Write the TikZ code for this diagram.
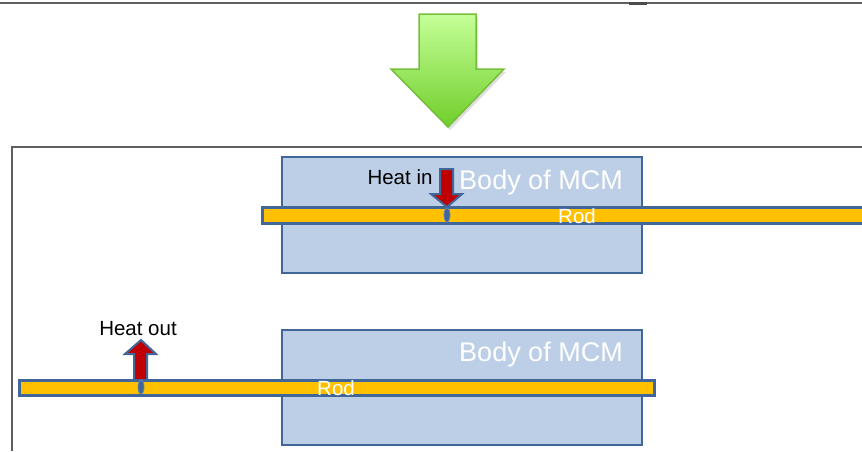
\documentclass[tikz,border=0pt]{standalone}
\usepackage{fontspec}
\setmainfont{Liberation Sans}
\usepackage{xcolor}
\usetikzlibrary{shadows}

\definecolor{bodyfill}{RGB}{189,207,230}
\definecolor{bodyline}{RGB}{65,103,154}
\definecolor{rodfill}{RGB}{255,192,0}
\definecolor{heatred}{RGB}{192,0,0}
\definecolor{framegray}{RGB}{95,95,95}
\definecolor{greentop}{RGB}{196,255,152}
\definecolor{greenbot}{RGB}{112,206,42}
\definecolor{greenline}{RGB}{118,190,60}

\tikzset{
    body/.style={fill=bodyfill, draw=bodyline, line width=2.5pt},
    rod/.style={fill=rodfill, draw=bodyline, line width=3pt},
    heat/.style={fill=heatred, draw=bodyline, line width=2pt, line join=miter},
    spot/.style={fill=bodyline, draw=bodyline!80!white, line width=0.8pt},
    bodytext/.style={text=white, font=\fontsize{27}{29}\selectfont, inner sep=0pt},
    rodtext/.style={text=white, font=\fontsize{20.5}{22}\selectfont, inner sep=0pt},
    heattext/.style={text=black, font=\fontsize{20.5}{22}\selectfont, inner sep=0pt}
}

\begin{document}
\begin{tikzpicture}[x=1pt, y=-1pt]
        \useasboundingbox (0,0) rectangle (862,451);

        % page rule and frame
        \draw[framegray, line width=2pt] (0,3) -- (862,3);
        \draw[black!70, line width=3pt] (629,3) -- (647,3);
        \draw[framegray, line width=2pt] (12,451) -- (12,147) -- (862,147);

        % big green arrow
        \draw[greenline, line width=1.5pt, top color=greentop, bottom color=greenbot,
              drop shadow={shadow xshift=2pt, shadow yshift=-3pt, opacity=0.25}]
            (419,14) -- (476,14) -- (476,69) -- (504,69) -- (448,127)
            -- (391,69) -- (419,69) -- cycle;

        % upper body with rod
        \draw[body] (282,157) rectangle (642,273);
        \draw[rod] (262,207) rectangle (875,223);
        \node[bodytext] (body1) at (541,183) {Body of MCM};
        \node[rodtext] (rod1) at (577,216) {Rod};
        \draw[heat] (440,169) -- (453,169) -- (453,194) -- (462,194) -- (447,207)
            -- (431,194) -- (440,194) -- cycle;
        \draw[spot] (447,215) ellipse (3 and 7);
        \node[heattext] (heatin) at (400,177) {Heat in};

        % lower body with rod
        \draw[body] (282,330) rectangle (642,445);
        \draw[rod] (19,380) rectangle (654,395);
        \node[bodytext] (body2) at (541,355) {Body of MCM};
        \node[rodtext] (rod2) at (336,388) {Rod};
        \draw[heat] (134,380) -- (147,380) -- (147,354) -- (156,354) -- (141,340)
            -- (125,354) -- (134,354) -- cycle;
        \draw[spot] (141,387) ellipse (3 and 7);
        \node[heattext] (heatout) at (138,329) {Heat out};
    \end{tikzpicture}
\end{document}
